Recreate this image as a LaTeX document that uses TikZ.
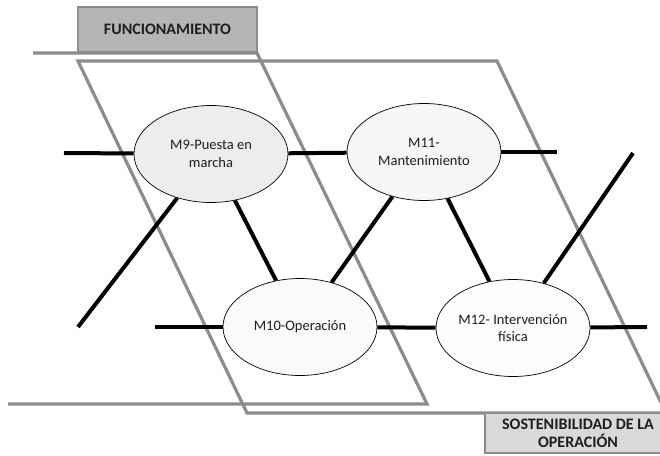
\documentclass[tikz,border=0pt]{standalone}
\usepackage{fontspec}
\setmainfont{Carlito}
\usetikzlibrary{shapes.geometric}
\definecolor{frameg}{RGB}{140,140,140}
\definecolor{tabdark}{RGB}{181,181,181}
\definecolor{tablight}{RGB}{217,217,217}
\definecolor{inkt}{RGB}{30,30,30}
\pgfdeclarelayer{frames}
\pgfdeclarelayer{links}
\pgfsetlayers{frames,links,main}
\begin{document}
\begin{tikzpicture}[x=1pt,y=-1pt,
  frame/.style={draw=frameg, line width=3.2pt},
  link/.style={draw=black, line width=4pt},
  module/.style={ellipse, draw=black, line width=0.7pt, minimum width=154pt,
    minimum height=97pt, inner xsep=-4pt, inner ysep=0pt, align=center,
    text=inkt, font=\fontsize{14.5}{17.5}\selectfont},
  tab/.style={rectangle, draw=frameg, line width=2.6pt, inner sep=0pt,
    text=inkt, align=center, font=\bfseries\fontsize{16}{18}\selectfont}]
\useasboundingbox (0,0) rectangle (660,455);
\begin{scope}
\clip (0,0) rectangle (660,455);

% modules
\node[module, fill={rgb,255:red,237;green,237;blue,237}] (m9) at (211,154) {M9-Puesta en\\marcha};
\node[module, fill={rgb,255:red,246;green,246;blue,246}] (m11) at (424,152) {M11-\\Mantenimiento};
\node[module, fill={rgb,255:red,250;green,250;blue,250}] (m10) at (300,327) {M10-Operación};
\node[module, fill={rgb,255:red,253;green,253;blue,253}] (m12) at (513,328) {M12- Intervención\\física};

% free ends of the connectors
\coordinate (e9) at (64,153);
\coordinate (e11) at (557,152);
\coordinate (e10) at (155,327);
\coordinate (e12) at (647,327);
\coordinate (d9) at (78,327);
\coordinate (d12) at (633,153);

% connectors, kept under the modules
\begin{pgfonlayer}{links}
\draw[link] (e9) -- (m9);
\draw[link] (m9) -- (m11);
\draw[link] (m11) -- (e11);
\draw[link] (e10) -- (m10);
\draw[link] (m10) -- (m12);
\draw[link] (m12) -- (e12);
\draw[link] (m9) -- (d9);
\draw[link] (m9) -- (m10);
\draw[link] (m11) -- (m10);
\draw[link] (m11) -- (m12);
\draw[link] (m12) -- (d12);
\end{pgfonlayer}

% the two slanted frames, at the back
\begin{pgfonlayer}{frames}
\draw[frame] (33,53) -- (257,53) -- (427,404) -- (8,404);
\draw[frame] (78,61) -- (497,61) -- (666,413) -- (247,413) -- cycle;
\end{pgfonlayer}

% headings
\node[tab, fill=tabdark, minimum width=179pt, minimum height=45pt] (func) at (167.5,29.5) {FUNCIONAMIENTO};
\node[tab, fill=tablight, minimum width=186pt, minimum height=40pt] (sost) at (578,433) {SOSTENIBILIDAD DE LA\\OPERACIÓN};
\end{scope}
\end{tikzpicture}
\end{document}
